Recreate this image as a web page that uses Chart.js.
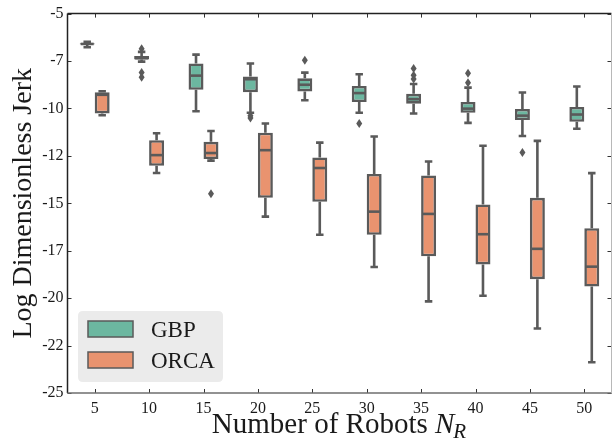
<!DOCTYPE html>
<html><head><meta charset="utf-8">
<script src="https://cdn.jsdelivr.net/npm/chart.js@4.4.1/dist/chart.umd.min.js"></script>
<style>html,body{margin:0;padding:0;background:#fff;overflow:hidden}#wrap{width:613px;height:445px}</style>
</head><body><div id="wrap"><canvas id="c" width="613" height="445"></canvas></div>
<script>
const categories = ['5','10','15','20','25','30','35','40','45','50'];
const yTickValues = [-25,-22.5,-20,-17.5,-15,-12.5,-10,-7.5,-5];
const yTickLabels = ['-25','-22','-20','-17','-15','-12','-10','-7','-5'];
const seriesNames = ['GBP','ORCA'];

// GBP box statistics per category
const gbpWhiskerLow  = [-6.77,-7.53,-10.15,-10.23,-9.57,-10.23,-10.27,-10.76,-11.45,-11.07];
const gbpQ1          = [-6.63,-7.42,-9.02,-9.14,-9.10,-9.66,-9.75,-10.23,-10.61,-10.70];
const gbpMedian      = [-6.60,-7.35,-8.27,-8.46,-8.75,-9.19,-9.51,-10.01,-10.38,-10.32];
const gbpQ3          = [-6.56,-7.24,-7.63,-8.31,-8.41,-8.81,-9.23,-9.66,-10.03,-9.92];
const gbpWhiskerHigh = [-6.48,-7.02,-7.16,-7.63,-8.11,-8.20,-8.71,-8.90,-9.16,-8.84];
const gbpOutliers    = [[],[-6.85,-8.10,-8.36],[],[-10.38,-10.50],[-7.46],[-10.79],[-7.90,-8.25,-8.45],[-8.15,-8.64],[-12.32],[]];

// ORCA box statistics per category
const orcaWhiskerLow  = [-10.36,-13.40,-12.75,-15.70,-16.66,-18.36,-20.17,-19.87,-21.60,-23.38];
const orcaQ1          = [-10.26,-13.02,-12.67,-14.71,-14.92,-16.66,-17.79,-18.22,-19.00,-19.39];
const orcaMedian      = [-9.28,-12.46,-12.35,-12.20,-13.14,-15.44,-15.56,-16.63,-17.40,-18.34];
const orcaQ3          = [-9.14,-11.67,-11.76,-11.28,-12.58,-13.45,-13.53,-15.06,-14.71,-16.31];
const orcaWhiskerHigh = [-9.09,-11.31,-11.19,-10.79,-11.80,-11.48,-12.80,-11.97,-11.71,-13.41];
const orcaOutliers    = [[],[],[-14.49],[],[],[],[],[],[],[]];

const GBP_COLOR = '#6cb7a0';
const ORCA_COLOR = '#e9936f';
const EDGE = '#5a5a5a';
const FONT = '"Liberation Serif", "DejaVu Serif", serif';

const stats = [
  {lo:gbpWhiskerLow, q1:gbpQ1, med:gbpMedian, q3:gbpQ3, hi:gbpWhiskerHigh, out:gbpOutliers},
  {lo:orcaWhiskerLow, q1:orcaQ1, med:orcaMedian, q3:orcaQ3, hi:orcaWhiskerHigh, out:orcaOutliers}
];

const boxPlugin = {
  id: 'boxExtras',
  afterDatasetsDraw(chart) {
    const ctx = chart.ctx, y = chart.scales.y;
    ctx.save();
    chart.data.datasets.forEach((ds, di) => {
      const meta = chart.getDatasetMeta(di);
      const s = stats[di];
      meta.data.forEach((bar, j) => {
        const cx = bar.x, w = bar.width, hw = w/2, cap = w/4;
        ctx.strokeStyle = EDGE; ctx.lineWidth = 2.6; ctx.lineCap = 'butt';
        const pq1 = y.getPixelForValue(s.q1[j]), pq3 = y.getPixelForValue(s.q3[j]);
        const plo = y.getPixelForValue(s.lo[j]), phi = y.getPixelForValue(s.hi[j]);
        const pm = y.getPixelForValue(s.med[j]);
        ctx.beginPath();
        ctx.moveTo(cx, pq3); ctx.lineTo(cx, phi);
        ctx.moveTo(cx, pq1); ctx.lineTo(cx, plo);
        ctx.moveTo(cx-cap, phi); ctx.lineTo(cx+cap, phi);
        ctx.moveTo(cx-cap, plo); ctx.lineTo(cx+cap, plo);
        ctx.stroke();
        ctx.beginPath();
        ctx.moveTo(cx-hw+1, pm); ctx.lineTo(cx+hw-1, pm);
        ctx.stroke();
        ctx.fillStyle = EDGE;
        s.out[j].forEach(v => {
          const py = y.getPixelForValue(v);
          ctx.beginPath();
          ctx.moveTo(cx, py-4.5); ctx.lineTo(cx+3, py); ctx.lineTo(cx, py+4.5); ctx.lineTo(cx-3, py);
          ctx.closePath(); ctx.fill();
        });
      });
    });
    ctx.restore();
  },
  afterDraw(chart) {
    const ctx = chart.ctx, a = chart.chartArea, x = chart.scales.x, y = chart.scales.y;
    ctx.save();
    // ticks (inward, all sides)
    ctx.strokeStyle = '#333'; ctx.lineWidth = 1;
    ctx.beginPath();
    x.ticks.forEach((t, i) => {
      const px = Math.round(x.getPixelForTick(i)) + 0.5;
      ctx.moveTo(px, a.bottom); ctx.lineTo(px, a.bottom-4);
      ctx.moveTo(px, a.top); ctx.lineTo(px, a.top+4);
    });
    y.ticks.forEach((t) => {
      const py = Math.round(y.getPixelForValue(t.value)) + 0.5;
      ctx.moveTo(a.left, py); ctx.lineTo(a.left+4, py);
      ctx.moveTo(a.right, py); ctx.lineTo(a.right-4, py);
    });
    ctx.stroke();
    // spines
    ctx.lineWidth = 1.5;
    ctx.strokeStyle = '#222';
    ctx.beginPath(); ctx.moveTo(a.left, a.top); ctx.lineTo(a.right, a.top); ctx.stroke();
    ctx.beginPath(); ctx.moveTo(a.left, a.top); ctx.lineTo(a.left, a.bottom); ctx.stroke();
    ctx.strokeStyle = '#6e6e6e';
    ctx.beginPath(); ctx.moveTo(a.left, a.bottom); ctx.lineTo(a.right, a.bottom); ctx.stroke();
    ctx.strokeStyle = '#b8b8b8'; ctx.lineWidth = 1;
    ctx.beginPath(); ctx.moveTo(a.right, a.top); ctx.lineTo(a.right, a.bottom); ctx.stroke();

    // legend
    const lx = 78, ly = 311, lw = 145, lh = 71, r = 5;
    ctx.fillStyle = '#ebebeb';
    ctx.beginPath();
    ctx.moveTo(lx+r, ly); ctx.lineTo(lx+lw-r, ly); ctx.quadraticCurveTo(lx+lw, ly, lx+lw, ly+r);
    ctx.lineTo(lx+lw, ly+lh-r); ctx.quadraticCurveTo(lx+lw, ly+lh, lx+lw-r, ly+lh);
    ctx.lineTo(lx+r, ly+lh); ctx.quadraticCurveTo(lx, ly+lh, lx, ly+lh-r);
    ctx.lineTo(lx, ly+r); ctx.quadraticCurveTo(lx, ly, lx+r, ly);
    ctx.closePath(); ctx.fill();
    chart.data.datasets.forEach((ds, i) => {
      const py = 321 + i*31;
      ctx.fillStyle = ds.backgroundColor;
      ctx.fillRect(88, py, 45, 16);
      ctx.strokeStyle = EDGE; ctx.lineWidth = 1.5;
      ctx.strokeRect(88, py, 45, 16);
      ctx.fillStyle = '#1a1a1a';
      ctx.font = '23px ' + FONT;
      ctx.textAlign = 'left'; ctx.textBaseline = 'alphabetic';
      ctx.fillText(ds.label, 151, py + 16);
    });

    // x title with italic N_R
    ctx.fillStyle = '#1a1a1a';
    ctx.textBaseline = 'alphabetic';
    const part1 = 'Number of Robots ';
    ctx.font = '29px ' + FONT;
    const w1 = ctx.measureText(part1).width;
    ctx.font = 'italic 29px ' + FONT;
    const w2 = ctx.measureText('N').width;
    ctx.font = 'italic 21px ' + FONT;
    const w3 = ctx.measureText('R').width;
    const total = w1 + w2 + w3;
    const cx = (a.left + a.right)/2;
    let sx = cx - total/2;
    const base = 433;
    ctx.textAlign = 'left';
    ctx.font = '29px ' + FONT; ctx.fillText(part1, sx, base);
    ctx.font = 'italic 29px ' + FONT; ctx.fillText('N', sx + w1, base);
    ctx.font = 'italic 21px ' + FONT; ctx.fillText('R', sx + w1 + w2 - 1, base + 5);

    // y title
    ctx.save();
    ctx.translate(31, (a.top + a.bottom)/2);
    ctx.rotate(-Math.PI/2);
    ctx.font = '28px ' + FONT;
    ctx.textAlign = 'center';
    ctx.fillText('Log Dimensionless Jerk', 0, 0);
    ctx.restore();
    ctx.restore();
  }
};

new Chart(document.getElementById('c'), {
  type: 'bar',
  data: {
    labels: categories,
    datasets: [
      {label: seriesNames[0], data: categories.map((_, i) => [gbpQ1[i], gbpQ3[i]]),
       backgroundColor: GBP_COLOR, borderColor: EDGE, borderWidth: 2.6, borderSkipped: false,
       categoryPercentage: 0.55, barPercentage: 1.0},
      {label: seriesNames[1], data: categories.map((_, i) => [orcaQ1[i], orcaQ3[i]]),
       backgroundColor: ORCA_COLOR, borderColor: EDGE, borderWidth: 2.6, borderSkipped: false,
       categoryPercentage: 0.55, barPercentage: 1.0}
    ]
  },
  options: {
    responsive: false, animation: false, devicePixelRatio: 1,
    layout: {padding: {top: 9.5, right: 1.5, left: 0, bottom: 0}},
    plugins: {legend: {display: false}, tooltip: {enabled: false}},
    scales: {
      x: {
        grid: {display: false, drawTicks: false}, border: {display: false},
        ticks: {font: {family: FONT, size: 16}, color: '#1a1a1a', padding: 6, maxRotation: 0},
        afterFit(s) { s.height = 52; }
      },
      y: {
        min: -25, max: -5,
        afterBuildTicks(s) { s.ticks = yTickValues.map(v => ({value: v})); },
        grid: {display: false, drawTicks: false}, border: {display: false},
        ticks: {font: {family: FONT, size: 16}, color: '#1a1a1a', padding: 4,
                callback: (v) => yTickLabels[yTickValues.indexOf(v)]},
        afterFit(s) { s.width = 67.5; }
      }
    }
  },
  plugins: [boxPlugin]
});
</script>
</body></html>
